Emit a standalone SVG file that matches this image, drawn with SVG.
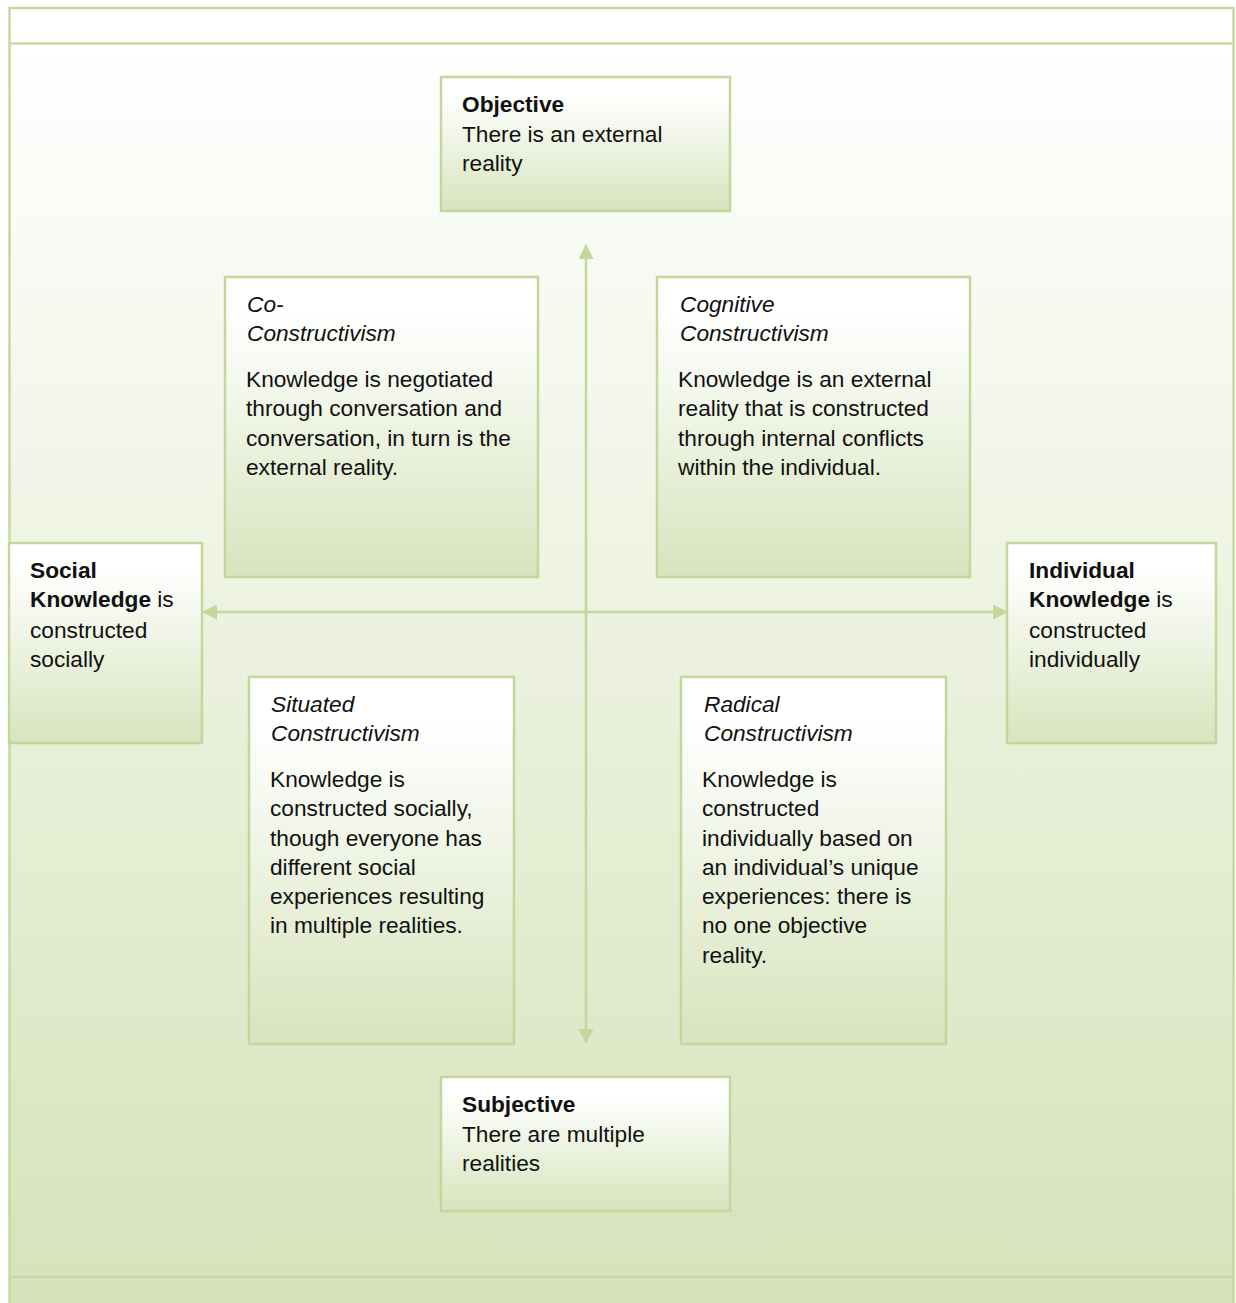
<svg xmlns="http://www.w3.org/2000/svg" width="1236" height="1303" viewBox="0 0 1236 1303">
  <defs>
    <linearGradient id="frameFill" x1="0" y1="0" x2="0" y2="1">
      <stop offset="0" stop-color="#ffffff"/>
      <stop offset="1" stop-color="#d7e3bb"/>
    </linearGradient>
    <linearGradient id="boxFill" x1="0" y1="0" x2="0" y2="1">
      <stop offset="0" stop-color="#ffffff"/>
      <stop offset="0.12" stop-color="#ffffff"/>
      <stop offset="1" stop-color="#d7e4bd"/>
    </linearGradient>
    <marker id="head" viewBox="0 0 15 15" refX="14" refY="7.5" markerWidth="15" markerHeight="15" markerUnits="userSpaceOnUse" orient="auto-start-reverse">
      <path d="M0,0 L15,7.5 L0,15 Z" fill="#c3d69b"/>
    </marker>
    <style>
      .box { fill: url(#boxFill); stroke: #c3d69b; stroke-width: 2.5; }
      .rule { stroke: #c6d9a0; stroke-width: 2.5; fill: none; }
      text { font-family: "Liberation Sans", Arial, sans-serif; font-size: 22.7px; fill: #111111; }
      .b { font-weight: bold; }
      .i { font-style: italic; }
      .axis { stroke: #c3d69b; stroke-width: 2.5; fill: none; }
    </style>
  </defs>

  <!-- outer table frame -->
  <g id="frame">
    <rect x="9" y="7" width="1224" height="37" fill="#ffffff"/>
    <rect x="9" y="44" width="1224" height="1233" fill="url(#frameFill)"/>
    <rect x="9" y="1277" width="1224" height="30" fill="#d8e3bc"/>
    <line class="rule" x1="9.5" y1="7" x2="9.5" y2="1303"/>
    <line class="rule" x1="1233.5" y1="7" x2="1233.5" y2="1303"/>
    <line class="rule" x1="9" y1="8" x2="1234" y2="8"/>
    <line class="rule" x1="9" y1="43.5" x2="1234" y2="43.5"/>
    <line class="rule" x1="9" y1="1277" x2="1234" y2="1277"/>
  </g>

  <!-- axes -->
  <g id="connectors">
    <line class="axis" x1="586" y1="245" x2="586" y2="1043" marker-start="url(#head)" marker-end="url(#head)"/>
    <line class="axis" x1="203" y1="612" x2="1007" y2="612" marker-start="url(#head)" marker-end="url(#head)"/>
  </g>

  <g id="objective">
    <rect class="box" x="441" y="77" width="289" height="134"/>
    <text x="462" y="112" class="b">Objective</text>
    <text x="462" y="142">There is an external</text>
    <text x="462" y="171">reality</text>
  </g>

  <g id="subjective">
    <rect class="box" x="441" y="1077" width="289" height="134"/>
    <text x="462" y="1112" class="b">Subjective</text>
    <text x="462" y="1142">There are multiple</text>
    <text x="462" y="1171">realities</text>
  </g>

  <g id="social">
    <rect class="box" x="9" y="543" width="193" height="200"/>
    <text x="30" y="578" class="b">Social</text>
    <text x="30" y="607"><tspan class="b">Knowledge</tspan> is</text>
    <text x="30" y="638">constructed</text>
    <text x="30" y="667">socially</text>
  </g>

  <g id="individual">
    <rect class="box" x="1007" y="543" width="209" height="200"/>
    <text x="1029" y="578" class="b">Individual</text>
    <text x="1029" y="607"><tspan class="b">Knowledge</tspan> is</text>
    <text x="1029" y="638">constructed</text>
    <text x="1029" y="667">individually</text>
  </g>

  <g id="co-constructivism">
    <rect class="box" x="225" y="277" width="313" height="300"/>
    <text x="247" y="312" class="i">Co-</text>
    <text x="247" y="341" class="i">Constructivism</text>
    <text x="246" y="387">Knowledge is negotiated</text>
    <text x="246" y="416">through conversation and</text>
    <text x="246" y="446">conversation, in turn is the</text>
    <text x="246" y="475">external reality.</text>
  </g>

  <g id="cognitive-constructivism">
    <rect class="box" x="657" y="277" width="313" height="300"/>
    <text x="680" y="312" class="i">Cognitive</text>
    <text x="680" y="341" class="i">Constructivism</text>
    <text x="678" y="387">Knowledge is an external</text>
    <text x="678" y="416">reality that is constructed</text>
    <text x="678" y="446">through internal conflicts</text>
    <text x="678" y="475">within the individual.</text>
  </g>

  <g id="situated-constructivism">
    <rect class="box" x="249" y="677" width="265" height="367"/>
    <text x="271" y="712" class="i">Situated</text>
    <text x="271" y="741" class="i">Constructivism</text>
    <text x="270" y="787">Knowledge is</text>
    <text x="270" y="816">constructed socially,</text>
    <text x="270" y="846">though everyone has</text>
    <text x="270" y="875">different social</text>
    <text x="270" y="904">experiences resulting</text>
    <text x="270" y="933">in multiple realities.</text>
  </g>

  <g id="radical-constructivism">
    <rect class="box" x="681" y="677" width="265" height="367"/>
    <text x="704" y="712" class="i">Radical</text>
    <text x="704" y="741" class="i">Constructivism</text>
    <text x="702" y="787">Knowledge is</text>
    <text x="702" y="816">constructed</text>
    <text x="702" y="846">individually based on</text>
    <text x="702" y="875">an individual’s unique</text>
    <text x="702" y="904">experiences: there is</text>
    <text x="702" y="933">no one objective</text>
    <text x="702" y="963">reality.</text>
  </g>
</svg>
